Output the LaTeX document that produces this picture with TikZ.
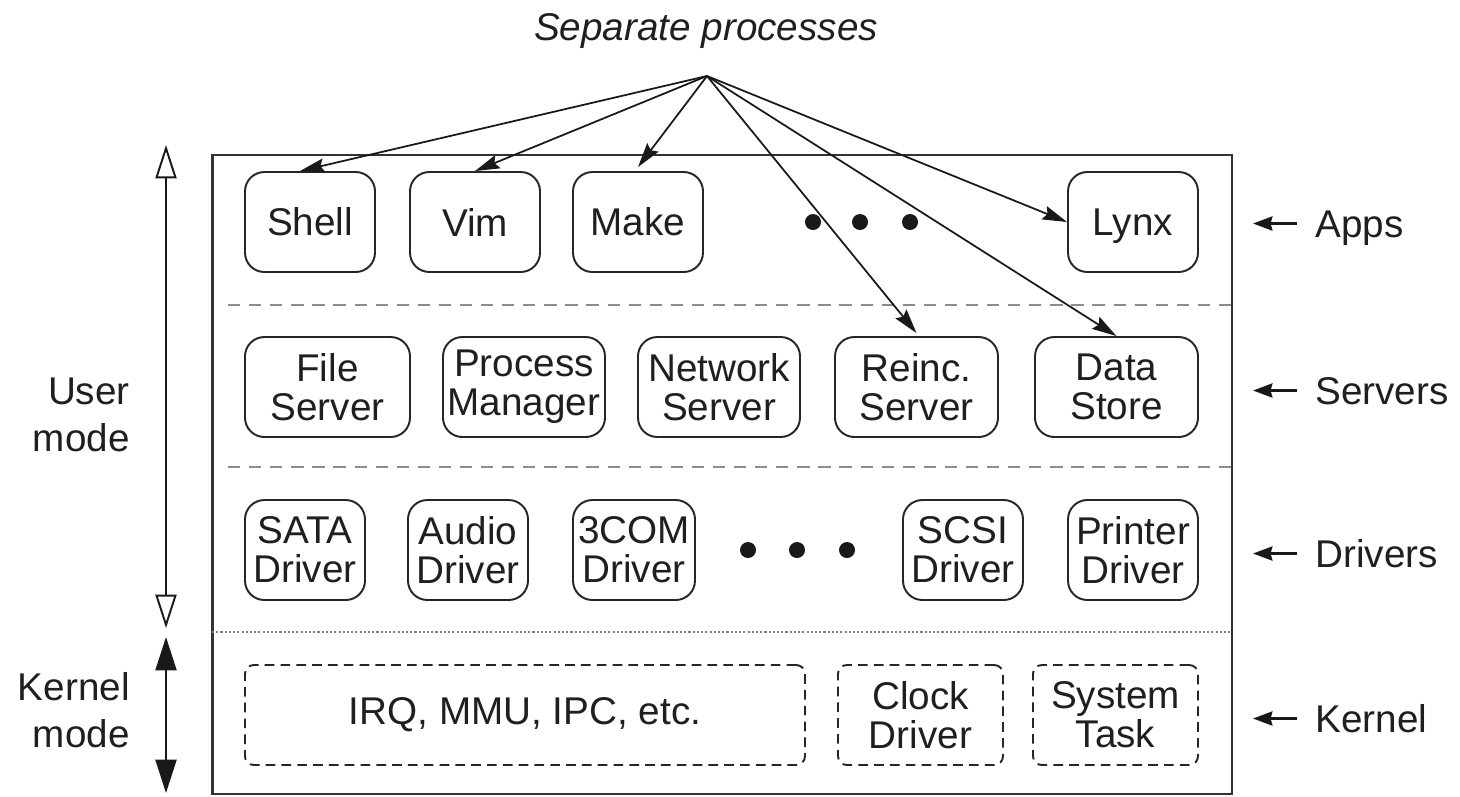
\documentclass[tikz,border=0pt]{standalone}
\usepackage{fontspec}
\setmainfont{Liberation Sans}
\usetikzlibrary{arrows.meta}
\begin{document}
\begin{tikzpicture}[x=0.02cm, y=-0.02cm,
  txt/.style={font=\fontsize{22}{22}\selectfont, text=black!88, align=center, inner sep=0pt},
  box/.style={txt, draw=black!85, line width=1.1pt, rounded corners=11pt,
              minimum width=#1*0.02cm, minimum height=2cm},
  kbox/.style={txt, draw=black!85, line width=1.1pt, dash pattern=on 5.5pt off 3.5pt,
              rounded corners=5pt, minimum width=#1*0.02cm, minimum height=2cm},
  dotmark/.style={circle, fill=black!90, minimum size=0.32cm, inner sep=0pt},
  layersep/.style={draw=black!45, line width=0.8pt, dash pattern=on 7pt off 5pt},
  ptr/.style={line width=1pt, draw=black!90, -{Stealth[length=14pt, width=8pt, inset=2pt]}},
  lvl/.style={line width=1.5pt, draw=black!90, -{Stealth[length=11pt, width=8pt, inset=1pt]}},
  sidelabel/.style={font=\fontsize{22}{22}\selectfont, text=black!88, inner sep=0pt, anchor=base west},
  modelabel/.style={font=\fontsize{22}{27}\selectfont, text=black!88, inner sep=0pt, align=right, anchor=east}
]
\useasboundingbox (0,0) rectangle (1460,796);

% outer frame and layer separators
\node[draw=black!80, line width=1.6pt, minimum width=20.4cm, minimum height=12.78cm, inner sep=0pt]
  (frame) at (722,474.5) {};
\draw[layersep] (228,305) -- (1232,305);
\draw[layersep] (228,467) -- (1232,467);
\draw[draw=black!50, line width=0.8pt, dash pattern=on 1.2pt off 1.2pt] (212,632) -- (1232,632);

% applications
\node[box=130] (shell) at (310,222) {Shell};
\node[box=130] (vim)   at (475,222) {Vim};
\node[box=130] (make)  at (638,222) {Make};
\node[dotmark] (ad1) at (813,222) {};
\node[dotmark] (ad2) at (860,222) {};
\node[dotmark] (ad3) at (910,222) {};
\node[box=130] (lynx)  at (1133,222) {\raisebox{0pt}[\height][0pt]{Lynx}};

% servers
\node[box=165] (fs)    at (327.5,387) {File\\Server};
\node[box=162] (pm)    at (524,387)   {Process\\Manager};
\node[box=162] (ns)    at (719,387)   {Network\\Server};
\node[box=163] (rs)    at (916.5,387) {Reinc.\\Server};
\node[box=163] (ds)    at (1116.5,387){Data\\Store};

% drivers
\node[box=120] (sata)  at (305,550)  {SATA\\Driver};
\node[box=120] (audio) at (468,550)  {Audio\\Driver};
\node[box=122] (tcom)  at (634,550)  {3COM\\Driver};
\node[dotmark] (dd1) at (748,550) {};
\node[dotmark] (dd2) at (797,550) {};
\node[dotmark] (dd3) at (847,550) {};
\node[box=120] (scsi)  at (963,550)  {SCSI\\Driver};
\node[box=130] (prn)   at (1133,550) {Printer\\Driver};

% kernel
\node[kbox=560] (irq)   at (525,715)    {IRQ, MMU, IPC, etc.};
\node[kbox=165] (clock) at (920.5,715)  {Clock\\Driver};
\node[kbox=165] (systask) at (1115.5,715) {System\\Task};

% separate processes
\node[txt, font=\fontsize{22}{22}\selectfont\itshape, anchor=base] (sep) at (706,40) {Separate processes};
\coordinate (apex) at (707,76);
\draw[ptr] (apex) -- ([xshift=-0.2cm]shell.north);
\draw[ptr] (apex) -- (vim.north);
\draw[ptr] (apex) -- ([yshift=0.08cm]make.north);
\draw[ptr] (apex) -- (lynx.west);
\draw[ptr] (apex) -- ([yshift=0.06cm]rs.north);
\draw[ptr] (apex) -- (ds.north);

% layer names
\node[sidelabel] (lapps) at (1315,237) {Apps};
\node[sidelabel] (lsrv)  at (1315,404) {Servers};
\node[sidelabel] (ldrv)  at (1315,567) {Drivers};
\node[sidelabel] (lker)  at (1315,732) {Kernel};
\foreach \l in {lapps,lsrv,ldrv,lker}
  \draw[lvl] ([shift={(-0.36cm,0.27cm)}]\l.base west) -- ([shift={(-1.24cm,0.27cm)}]\l.base west);

% privilege modes
\node[modelabel] (umode) at (130,415) {User\\mode};
\node[modelabel] (kmode) at (130,710) {Kernel\\mode};
\coordinate (umtop) at (166,145);
\coordinate (umbot) at (166,628);
\coordinate (kmtop) at (166,637);
\coordinate (kmbot) at (166,793);
\draw[line width=1.1pt, draw=black!90,
  {Triangle[open, length=19pt, width=12pt]}-{Triangle[open, length=19pt, width=12pt]}] (umtop) -- (umbot);
\draw[line width=1.1pt, draw=black!90, fill=black!90,
  {Triangle[length=19pt, width=12pt]}-{Triangle[length=19pt, width=12pt]}] (kmtop) -- (kmbot);
\end{tikzpicture}
\end{document}
